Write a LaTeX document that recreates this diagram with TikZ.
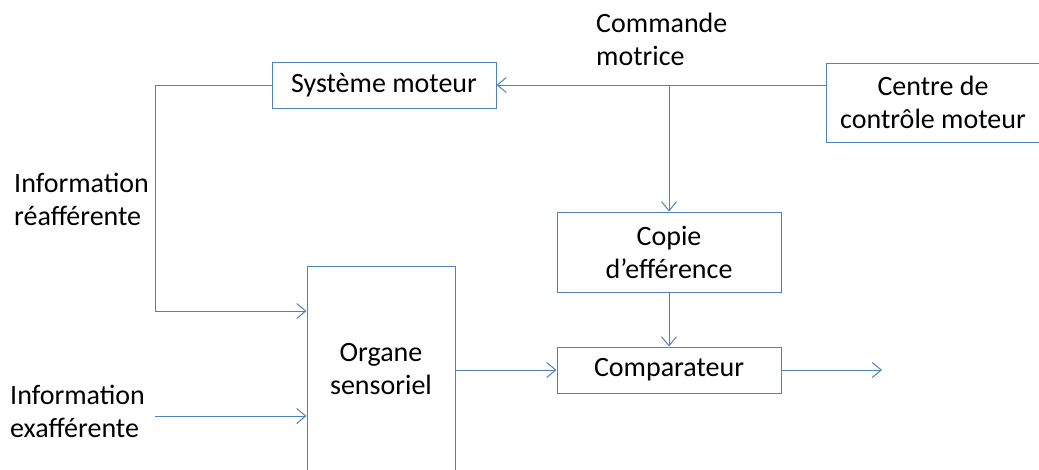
\documentclass[tikz,border=0pt]{standalone}
\usepackage{fontspec}
\setmainfont{Carlito}
\usetikzlibrary{arrows.meta}
\definecolor{linecol}{RGB}{79,129,189}
\tikzset{
  blk/.style={draw=linecol, line width=1pt, fill=white, align=center, inner sep=0pt,
    font=\fontsize{28}{33}\selectfont},
  lbl/.style={align=left, inner sep=0pt, font=\fontsize{28}{33}\selectfont},
  conn/.style={draw=linecol, line width=1pt},
  arr/.style={conn, -{Straight Barb[length=9pt,width=15pt,line width=1pt]}}
}
\begin{document}
\begin{tikzpicture}[x=1pt,y=-1pt]
\useasboundingbox (0,0) rectangle (1039,469);
\clip (0,0) rectangle (1039,469);
\node[blk, minimum width=224pt, minimum height=46pt] (sys) at (384,85) {Système moteur};
\node[blk, minimum width=214pt, minimum height=79pt] (centre) at (933,102.5) {Centre de\\contrôle moteur};
\node[blk, minimum width=224pt, minimum height=80pt] (copie) at (669,252) {Copie\\d’efférence};
\node[blk, minimum width=148pt, minimum height=206pt] (org) at (381,369) {Organe\\sensoriel};
\node[blk, minimum width=224pt, minimum height=46pt] (comp) at (669,370) {Comparateur};
\node[lbl, anchor=base west] (cmd) at (596,65) {Commande\\motrice};
\node[lbl, anchor=base west] (rea) at (14,225) {Information\\réafférente};
\node[lbl, anchor=base west] (exa) at (10,437) {Information\\exafférente};
\coordinate (j) at (669,85);
\coordinate (fbtop) at (155,85);
\coordinate (fbbot) at (155,311);
\coordinate (exin) at (155,416);
\coordinate (out) at (882,370);
\draw[arr] (sys.east -| centre.west) -- (sys.east);
\draw[arr] (j) -- (copie.north);
\draw[arr] (copie.south) -- (comp.north);
\draw[arr] (org.east |- comp.west) -- (comp.west);
\draw[arr] (comp.east) -- (out);
\draw[arr] (sys.west) -- (fbtop) -- (fbbot) -- (fbbot -| org.west);
\draw[arr] (exin) -- (exin -| org.west);
\end{tikzpicture}
\end{document}
